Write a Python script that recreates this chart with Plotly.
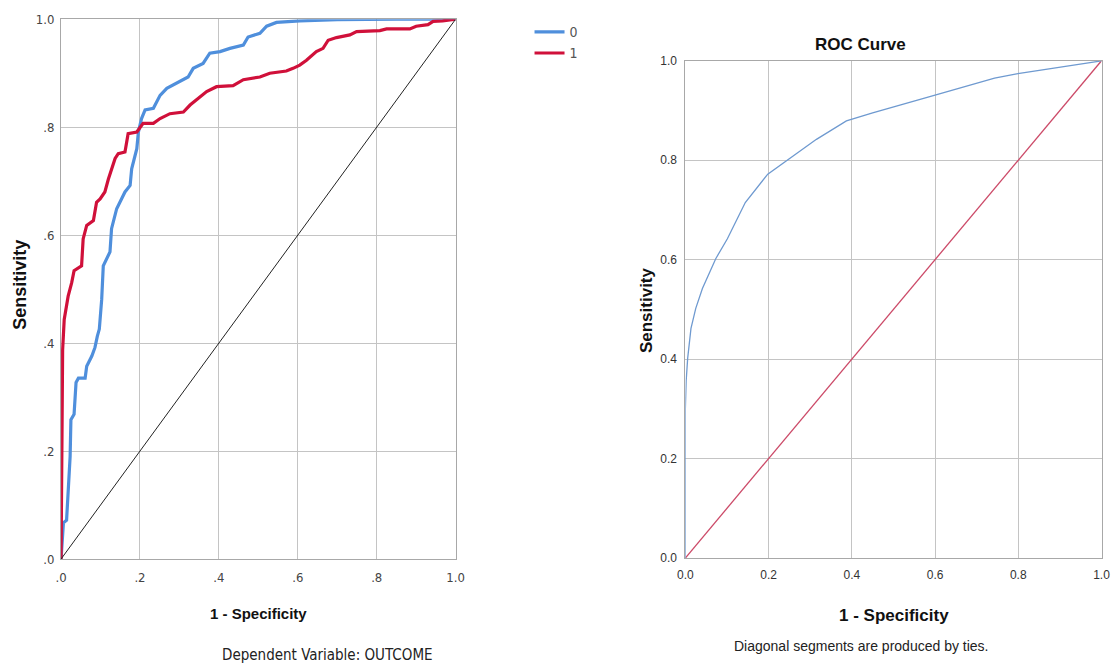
import plotly.graph_objects as go

# ---- Left chart: ROC curves by group (Dependent Variable: OUTCOME) ----
g0_fpr = [0.0, 0.006, 0.014, 0.018, 0.023, 0.025, 0.033, 0.038, 0.044, 0.061, 0.065, 0.078,
          0.086, 0.092, 0.097, 0.103, 0.107, 0.124, 0.128, 0.141, 0.162, 0.175, 0.179, 0.192,
          0.196, 0.204, 0.213, 0.234, 0.251, 0.268, 0.301, 0.322, 0.335, 0.360, 0.377, 0.403,
          0.428, 0.462, 0.474, 0.504, 0.521, 0.546, 0.605, 0.700, 0.850, 1.0]
g0_tpr = [0.0, 0.067, 0.072, 0.116, 0.190, 0.258, 0.268, 0.327, 0.335, 0.335, 0.357, 0.376,
          0.392, 0.413, 0.426, 0.481, 0.543, 0.569, 0.612, 0.649, 0.680, 0.692, 0.723, 0.760,
          0.791, 0.816, 0.832, 0.835, 0.859, 0.872, 0.884, 0.893, 0.909, 0.918, 0.937, 0.940,
          0.946, 0.952, 0.967, 0.974, 0.987, 0.994, 0.997, 0.999, 1.0, 1.0]

g1_fpr = [0.0, 0.002, 0.004, 0.008, 0.013, 0.018, 0.027, 0.033, 0.052, 0.056, 0.065, 0.082,
          0.090, 0.099, 0.111, 0.120, 0.137, 0.145, 0.162, 0.170, 0.192, 0.208, 0.234, 0.251,
          0.276, 0.310, 0.327, 0.352, 0.369, 0.394, 0.436, 0.462, 0.504, 0.529, 0.571, 0.588,
          0.605, 0.622, 0.647, 0.664, 0.677, 0.698, 0.732, 0.749, 0.808, 0.825, 0.884, 0.900,
          0.930, 0.943, 0.967, 1.0]
g1_tpr = [0.0, 0.296, 0.388, 0.444, 0.469, 0.487, 0.512, 0.534, 0.543, 0.593, 0.618, 0.627,
          0.661, 0.667, 0.680, 0.704, 0.742, 0.751, 0.754, 0.788, 0.791, 0.807, 0.807, 0.816,
          0.825, 0.828, 0.841, 0.856, 0.866, 0.875, 0.877, 0.888, 0.893, 0.900, 0.904, 0.909,
          0.915, 0.924, 0.940, 0.946, 0.961, 0.966, 0.971, 0.977, 0.979, 0.982, 0.982, 0.987,
          0.990, 0.996, 0.997, 1.0]

ref_line = [0.0, 1.0]

# ---- Right chart: single ROC curve ----
roc_fpr = [0.0, 0.0, 0.002, 0.0056, 0.0135, 0.025, 0.041, 0.073, 0.101, 0.144, 0.198,
           0.248, 0.315, 0.387, 0.45, 0.6, 0.743, 0.799, 1.0]
roc_tpr = [0.0, 0.30, 0.357, 0.402, 0.462, 0.502, 0.542, 0.602, 0.642, 0.715, 0.772,
           0.802, 0.842, 0.879, 0.895, 0.931, 0.965, 0.974, 1.0]

left_ticks = [0, 0.2, 0.4, 0.6, 0.8, 1.0]
left_ticktext = [".0", ".2", ".4", ".6", ".8", "1.0"]
right_ticktext = ["0.0", "0.2", "0.4", "0.6", "0.8", "1.0"]
legend_names = ["0", "1"]

W, H = 1111, 664
# the photo shows the page with a small border and slight shrink; compensate
SX, SY, PAD = 0.9858, 0.9759, 8.0
def px(x):
    return min(1.0, max(0.0, (x / SX - PAD) / W))
def py(y):
    return min(1.0, max(0.0, (H - (y / SY - PAD)) / H))

NARROW = "Liberation Sans Narrow, Arial Narrow, DejaVu Sans Condensed, sans-serif"
ARIAL = "Liberation Sans, Arial, sans-serif"

fig = go.Figure()
fig.add_trace(go.Scatter(x=g0_fpr, y=g0_tpr, mode="lines", name=legend_names[0],
                         line=dict(color="#4f8fdc", width=3.2), xaxis="x", yaxis="y"))
fig.add_trace(go.Scatter(x=g1_fpr, y=g1_tpr, mode="lines", name=legend_names[1],
                         line=dict(color="#d0103a", width=3.2), xaxis="x", yaxis="y"))
fig.add_trace(go.Scatter(x=ref_line, y=ref_line, mode="lines", showlegend=False,
                         line=dict(color="#222222", width=1), xaxis="x", yaxis="y"))
fig.add_trace(go.Scatter(x=ref_line, y=ref_line, mode="lines", showlegend=False,
                         line=dict(color="#cc4a68", width=1.3), xaxis="x2", yaxis="y2"))
fig.add_trace(go.Scatter(x=roc_fpr, y=roc_tpr, mode="lines", showlegend=False,
                         line=dict(color="#6f9ad0", width=1.3), xaxis="x2", yaxis="y2"))

grid = "#c4c4c4"
frame = "#a8a8a8"
common = dict(range=[0, 1], tickvals=left_ticks, showgrid=True, gridcolor=grid, gridwidth=1,
              showline=True, linecolor=frame, linewidth=1, mirror=True, zeroline=False,
              ticks="", fixedrange=True)

fig.update_layout(
    width=W, height=H,
    margin=dict(l=0, r=0, t=0, b=0),
    paper_bgcolor="white", plot_bgcolor="white",
    showlegend=True,
    legend=dict(x=px(530), y=py(17), xanchor="left", yanchor="top",
                font=dict(family=NARROW, size=14, color="#555555"),
                bgcolor="rgba(0,0,0,0)", itemwidth=30, tracegroupgap=0),
    xaxis=dict(domain=[px(61), px(456)], anchor="y", ticktext=left_ticktext,
               tickfont=dict(family=NARROW, size=13, color="#444444"),
               ticklabelstandoff=6, **common),
    yaxis=dict(domain=[py(559), py(20)], anchor="x", ticktext=left_ticktext,
               tickfont=dict(family=NARROW, size=13, color="#444444"),
               ticklabelstandoff=3, **common),
    xaxis2=dict(domain=[px(686), min(px(1104), 1110.5 / W)], anchor="y2",
                ticktext=right_ticktext,
                tickfont=dict(family=ARIAL, size=12, color="#333333"),
                ticklabelstandoff=6, **common),
    yaxis2=dict(domain=[py(558), py(61.5)], anchor="x2", ticktext=right_ticktext,
                tickfont=dict(family=ARIAL, size=12, color="#333333"),
                ticklabelstandoff=5, **common),
)

def ann(text, x, y, size, bold=False, angle=0, family=ARIAL, color="#111111"):
    fig.add_annotation(text=f"<b>{text}</b>" if bold else text, x=px(x), y=py(y),
                       xref="paper", yref="paper", showarrow=False, textangle=angle,
                       xanchor="center", yanchor="middle",
                       font=dict(family=family, size=size, color=color))

ann("Sensitivity", 20, 285, 18, bold=True, angle=-90)
ann("1 - Specificity", 258.5, 613, 15, bold=True)
ann("Dependent Variable: OUTCOME", 328, 655, 15, family=NARROW, color="#222222")
ann("ROC Curve", 861.5, 45, 17, bold=True)
ann("Sensitivity", 647, 310, 17, bold=True, angle=-90)
ann("1 - Specificity", 895, 615, 17, bold=True)
ann("Diagonal segments are produced by ties.", 862, 646, 14, color="#222222")

fig.write_html("out.html", config={"displayModeBar": False},
               post_script="document.body.style.margin='0';"
                           "document.documentElement.style.overflow='hidden';")
